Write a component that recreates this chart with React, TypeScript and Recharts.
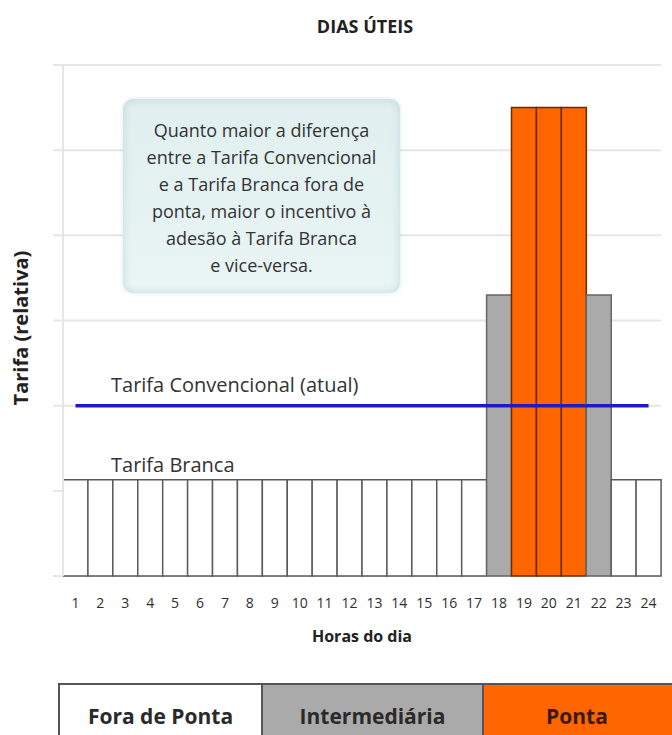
import { BarChart, Bar, Cell, XAxis, YAxis, CartesianGrid, ReferenceLine } from 'recharts'

// hours of the day and the relative white tariff for each one
const horas = [
  '1', '2', '3', '4', '5', '6', '7', '8', '9', '10', '11', '12',
  '13', '14', '15', '16', '17', '18', '19', '20', '21', '22', '23', '24',
]
const tarifaBranca = [
  1.13, 1.13, 1.13, 1.13, 1.13, 1.13, 1.13, 1.13, 1.13, 1.13, 1.13, 1.13,
  1.13, 1.13, 1.13, 1.13, 1.13, 3.3, 5.5, 5.5, 5.5, 3.3, 1.13, 1.13,
]
const postos = [
  'fora', 'fora', 'fora', 'fora', 'fora', 'fora', 'fora', 'fora', 'fora', 'fora', 'fora', 'fora',
  'fora', 'fora', 'fora', 'fora', 'fora', 'inter', 'ponta', 'ponta', 'ponta', 'inter', 'fora', 'fora',
]
const tarifaConvencional = 2
const yTicks = [0, 1, 2, 3, 4, 5, 6]

const notaLinhas = [
  'Quanto maior a diferença',
  'entre a Tarifa Convencional',
  'e a Tarifa Branca fora de',
  'ponta, maior o incentivo à',
  'adesão à Tarifa Branca',
  'e vice-versa.',
]
const postoNomes = ['Fora de Ponta', 'Intermediária', 'Ponta']
const postoChaves = ['fora', 'inter', 'ponta']

const FONT = '"Open Sans", sans-serif'

const cores: Record<string, { fill: string; stroke: string }> = {
  fora: { fill: '#ffffff', stroke: '#5a5a5a' },
  inter: { fill: '#aaaaaa', stroke: '#666666' },
  ponta: { fill: '#ff6600', stroke: '#6a2c00' },
}

const data = horas.map((hora, i) => ({ hora, tarifa: tarifaBranca[i], posto: postos[i] }))

// visible width of each band in the period strip (the last one runs off the edge)
const legendaLarguras = [201, 219, 186]

export default function App() {
  return (
    <div
      style={{
        position: 'absolute',
        left: 0,
        top: 0,
        width: 672,
        height: 735,
        overflow: 'hidden',
        background: '#fff',
        fontFamily: FONT,
        color: '#333',
      }}
    >
      <div
        style={{
          position: 'absolute',
          left: 215,
          width: 300,
          top: 14,
          textAlign: 'center',
          fontWeight: 700,
          fontSize: 18,
          color: '#222',
        }}
      >
        DIAS ÚTEIS
      </div>

      <BarChart
        width={672}
        height={660}
        data={data}
        margin={{ top: 65, right: 11, bottom: 0, left: 53 }}
        barCategoryGap={0}
        style={{ position: 'absolute', left: 0, top: 0 }}
      >
        <CartesianGrid vertical={false} stroke="#e6e6e6" strokeWidth={2} />
        <YAxis
          domain={[0, 6]}
          ticks={yTicks}
          width={10}
          tickSize={10}
          tickFormatter={() => ''}
          axisLine={{ stroke: '#e6e6e6', strokeWidth: 2 }}
          tickLine={{ stroke: '#e6e6e6', strokeWidth: 2 }}
        />
        <XAxis
          dataKey="hora"
          height={84}
          axisLine={false}
          tickLine={false}
          interval={0}
          tickMargin={16}
          tick={{ fontSize: 14, fill: '#2e2e2e', fontFamily: FONT }}
        />
        <Bar dataKey="tarifa" isAnimationActive={false} strokeWidth={1.5}>
          {data.map((d) => (
            <Cell key={d.hora} fill={cores[d.posto].fill} stroke={cores[d.posto].stroke} />
          ))}
        </Bar>
        <ReferenceLine
          segment={[
            { x: horas[0], y: tarifaConvencional },
            { x: horas[horas.length - 1], y: tarifaConvencional },
          ]}
          stroke="#1c1cc4"
          strokeWidth={3.5}
        />
      </BarChart>

      <div
        style={{
          position: 'absolute',
          left: 20,
          top: 328,
          transform: 'translate(-50%, -50%) rotate(-90deg)',
          whiteSpace: 'nowrap',
          fontWeight: 700,
          fontSize: 20,
          color: '#222',
        }}
      >
        Tarifa (relativa)
      </div>

      <div
        style={{
          position: 'absolute',
          left: 262,
          width: 200,
          top: 625,
          textAlign: 'center',
          fontWeight: 700,
          fontSize: 16,
          color: '#222',
        }}
      >
        Horas do dia
      </div>

      <div
        style={{
          position: 'absolute',
          left: 123,
          top: 99,
          width: 277,
          height: 194,
          borderRadius: 10,
          background: 'linear-gradient(180deg, #e0efef 0%, #eaf5f5 100%)',
          boxShadow: 'inset 0 0 8px rgba(150, 185, 190, 0.45), 0 0 4px rgba(150, 185, 190, 0.35)',
          boxSizing: 'border-box',
          paddingTop: 18,
          textAlign: 'center',
          fontSize: 18,
          lineHeight: '27px',
          color: '#333',
        }}
      >
        {notaLinhas.map((l) => (
          <div key={l}>{l}</div>
        ))}
      </div>

      <div style={{ position: 'absolute', left: 111, top: 371, fontSize: 20, color: '#333' }}>
        Tarifa Convencional (atual)
      </div>
      <div style={{ position: 'absolute', left: 111, top: 451, fontSize: 20, color: '#333' }}>
        Tarifa Branca
      </div>

      <div
        style={{
          position: 'absolute',
          left: 58,
          top: 683,
          display: 'flex',
          borderTop: '2px solid #555',
          borderLeft: '2px solid #555',
          height: 70,
        }}
      >
        {postoNomes.map((nome, i) => (
          <div
            key={nome}
            style={{
              width: legendaLarguras[i],
              paddingRight: i === 2 ? 80 : 0,
              background: cores[postoChaves[i]].fill,
              borderLeft: i > 0 ? '2px solid #555' : 'none',
              textAlign: 'center',
              lineHeight: '62px',
              fontWeight: 700,
              fontSize: 21,
              color: i === 2 ? '#3a1a00' : '#2a2a2a',
            }}
          >
            {nome}
          </div>
        ))}
      </div>
    </div>
  )
}
